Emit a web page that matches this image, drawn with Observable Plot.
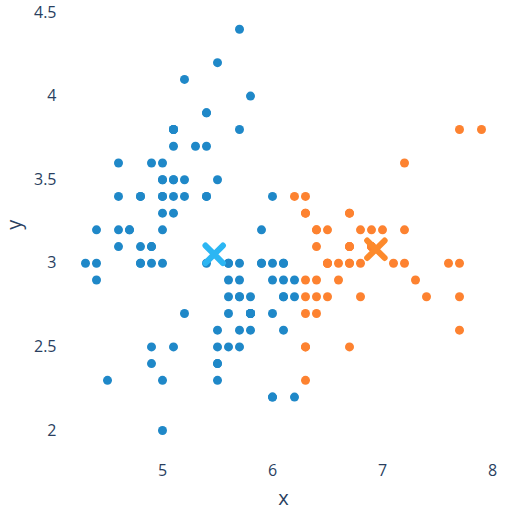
<!DOCTYPE html>
<html><head><meta charset="utf-8">
<script src="https://cdn.jsdelivr.net/npm/d3@7"></script>
<script src="https://cdn.jsdelivr.net/npm/@observablehq/plot@0.6"></script>
<style>body{margin:0;background:#fff}</style>
</head><body><div id="chart"></div>
<script>
const blueX = [5.1,4.9,4.7,4.6,5.0,5.4,4.6,5.0,4.4,4.9,5.4,4.8,4.8,4.3,5.8,5.7,5.4,5.1,5.7,5.1,5.4,5.1,4.6,5.1,4.8,5.0,5.0,5.2,5.2,4.7,4.8,5.4,5.2,5.5,4.9,5.0,5.5,4.9,4.4,5.1,5.0,4.5,4.4,5.0,5.1,4.8,5.1,4.6,5.3,5.0,
5.5,5.7,4.9,5.2,5.0,5.9,6.0,6.1,5.6,5.6,5.8,6.2,5.6,5.9,6.1,6.1,6.0,5.7,5.5,5.5,5.8,6.0,5.4,6.0,5.6,5.5,5.5,6.1,5.8,5.0,5.6,5.7,5.7,6.2,5.1,5.7,
5.8,4.9,5.7,5.8,6.0,5.6,6.2,6.1,6.1,6.0,5.8,5.9];
const blueY = [3.5,3.0,3.2,3.1,3.6,3.9,3.4,3.4,2.9,3.1,3.7,3.4,3.0,3.0,4.0,4.4,3.9,3.5,3.8,3.8,3.4,3.7,3.6,3.3,3.4,3.0,3.4,3.5,3.4,3.2,3.1,3.4,4.1,4.2,3.1,3.2,3.5,3.6,3.0,3.4,3.5,2.3,3.2,3.5,3.8,3.0,3.8,3.2,3.7,3.3,
2.3,2.8,2.4,2.7,2.0,3.0,2.2,2.9,2.9,3.0,2.7,2.2,2.5,3.2,2.8,2.8,2.9,2.6,2.4,2.4,2.7,2.7,3.0,3.4,3.0,2.5,2.6,3.0,2.6,2.3,2.7,3.0,2.9,2.9,2.5,2.8,
2.7,2.5,2.5,2.8,2.2,2.8,2.8,3.0,2.6,3.0,2.7,3.0];
const orangeX = [7.0,6.4,6.9,6.5,6.3,6.6,6.7,6.3,6.4,6.6,6.8,6.7,6.7,6.3,
6.3,7.1,6.3,6.5,7.6,7.3,6.7,7.2,6.5,6.4,6.8,6.4,6.5,7.7,7.7,6.9,7.7,6.3,6.7,7.2,7.2,7.4,7.9,6.4,6.3,7.7,6.3,6.4,6.9,6.7,6.9,6.8,6.7,6.7,6.3,6.5,6.2];
const orangeY = [3.2,3.2,3.1,2.8,3.3,2.9,3.1,2.5,2.9,3.0,2.8,3.0,3.1,2.3,
3.3,3.0,2.9,3.0,3.0,2.9,2.5,3.6,3.2,2.7,3.0,3.2,3.0,3.8,2.6,3.2,2.8,2.7,3.3,3.2,3.0,2.8,3.8,2.8,2.8,3.0,3.4,3.1,3.1,3.1,3.1,3.2,3.3,3.0,2.5,3.0,3.4];
const centroidX = [5.47, 6.94];
const centroidY = [3.054, 3.084];
const centroidColor = ["#2cb6f3", "#fd8a2c"];
const xTicks = [5,6,7,8];
const yTicks = [2,2.5,3,3.5,4,4.5];

const blue = blueX.map((x,i)=>({x, y: blueY[i]}));
const orange = orangeX.map((x,i)=>({x, y: orangeY[i]}));
const cents = centroidX.map((x,i)=>({x, y: centroidY[i], c: centroidColor[i]}));
const font = "'Open Sans', 'DejaVu Sans', sans-serif";

const chart = Plot.plot({
  width: 512, height: 512,
  marginLeft: 60, marginBottom: 60, marginTop: 10, marginRight: 20,
  style: {fontFamily: font, color: "#2a3f5f", background: "#fff"},
  x: {domain: [4, 8], range: [52, 492]},
  y: {domain: [2, 4.5], range: [430, 12]},
  marks: [
    Plot.axisX(xTicks, {tickSize: 0, tickPadding: 12, fontSize: 16, fill: "#2a3f5f", label: null}),
    Plot.axisY(yTicks, {tickSize: 0, tickPadding: 4, fontSize: 16, fill: "#2a3f5f", label: null, tickFormat: d => String(d)}),
    Plot.text(["x"], {frameAnchor: "bottom", x: () => 6.1, dy: 52, fontSize: 20, fill: "#2a3f5f", text: d => d}),
    Plot.text(["y"], {frameAnchor: "left", y: () => 3.2, dx: -46, rotate: -90, fontSize: 20, fill: "#2a3f5f", text: d => d}),
    Plot.dot(blue, {x: "x", y: "y", r: 4.5, fill: "#1f88c8"}),
    Plot.dot(orange, {x: "x", y: "y", r: 4.5, fill: "#fd8230"}),
    Plot.dot(cents, {x: "x", y: "y", r: 8, symbol: "times", stroke: "c", strokeWidth: 6, strokeLinecap: "round"})
  ]
});
document.getElementById("chart").append(chart);
</script></body></html>
